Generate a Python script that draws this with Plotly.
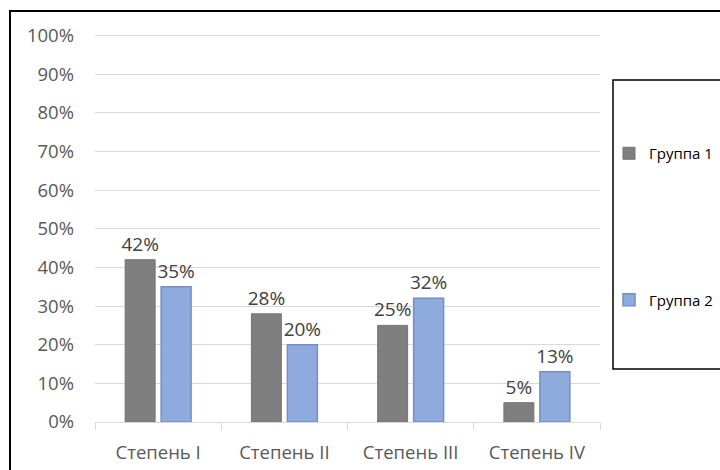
import plotly.graph_objects as go

categories = ["Степень I", "Степень II", "Степень III", "Степень IV"]
group1 = [42, 28, 25, 5]
group2 = [35, 20, 32, 13]
series_names = ["Группа 1", "Группа 2"]
y_ticks = [0, 10, 20, 30, 40, 50, 60, 70, 80, 90, 100]
y_tick_labels = [f"{v}%" for v in y_ticks]

FONT = "Open Sans"
W, H = 720, 470
L, R, T, B = 95, 120, 34, 48
pw, ph = W - L - R, H - T - B


def px_x(x):
    return (x - L) / pw


def px_y(y):
    return (H - B - y) / ph


def pct(values):
    return [f"{v}%" for v in values]


label_font = dict(family=FONT, size=19, color="#404040")

fig = go.Figure()
fig.add_trace(go.Bar(
    x=categories, y=group1, name=series_names[0], legendgroup="g1",
    marker=dict(color="#7f7f7f", line=dict(color="#747474", width=1)),
    text=pct(group1), textposition="outside", constraintext="none",
    textfont=label_font, cliponaxis=False,
))
fig.add_trace(go.Bar(
    x=categories, y=group2, name=series_names[1], legendgroup="g2",
    marker=dict(color="#8faadc", line=dict(color="#7390c6", width=1.5)),
    text=pct(group2), textposition="outside", constraintext="none",
    textfont=label_font, cliponaxis=False,
))

shapes = [
    # outer chart frame
    dict(type="rect", xref="paper", yref="paper",
         x0=px_x(10), x1=px_x(730), y0=px_y(480), y1=px_y(11),
         line=dict(color="black", width=2), fillcolor="rgba(0,0,0,0)", layer="below"),
    # legend frame
    dict(type="rect", xref="paper", yref="paper",
         x0=px_x(613), x1=px_x(730), y0=px_y(369), y1=px_y(80),
         line=dict(color="black", width=1.5), fillcolor="rgba(0,0,0,0)"),
]

fig.update_layout(
    width=W, height=H,
    margin=dict(l=L, r=R, t=T, b=B, pad=0, autoexpand=False),
    paper_bgcolor="white", plot_bgcolor="white",
    barmode="group", bargap=0.43, bargroupgap=0.167,
    font=dict(family=FONT, color="#595959"),
    showlegend=True,
    legend=dict(
        x=px_x(609), y=px_y(137), xanchor="left", yanchor="top",
        tracegroupgap=124, bgcolor="rgba(0,0,0,0)",
        font=dict(family=FONT, size=15, color="#000000"),
        itemwidth=30,
    ),
    shapes=shapes,
)
fig.update_yaxes(
    range=[0, 100.4], tickvals=y_ticks, ticktext=y_tick_labels,
    showgrid=True, gridcolor="#d9d9d9", gridwidth=1,
    zeroline=False, showline=False, ticks="",
    ticklabelstandoff=20,
    tickfont=dict(family=FONT, size=18.5, color="#595959"),
)
fig.update_xaxes(
    type="category", showline=True, linecolor="#d9d9d9", linewidth=1,
    ticks="outside", tickson="boundaries", ticklen=7, tickcolor="#d9d9d9",
    tickfont=dict(family=FONT, size=18.5, color="#595959"),
    ticklabelstandoff=14,
)

fig.write_html("out.html")
